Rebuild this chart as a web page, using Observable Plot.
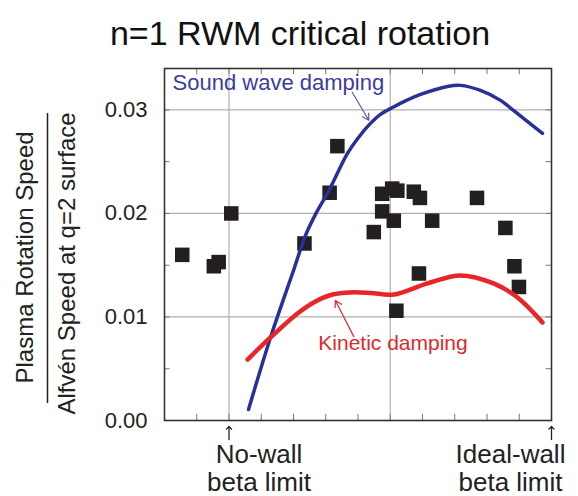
<!DOCTYPE html>
<html>
<head>
<meta charset="utf-8">
<script src="https://cdn.jsdelivr.net/npm/d3@7"></script>
<script src="https://cdn.jsdelivr.net/npm/@observablehq/plot@0.6"></script>
<style>
  html, body { margin: 0; padding: 0; background: #fff; }
  svg { font-family: "Liberation Sans", Arial, Helvetica, sans-serif; }
</style>
</head>
<body>
<div id="chart"></div>
<script>
// Normalized beta: 0 = no-wall limit, 1 = ideal-wall limit
const expX = [-0.145, -0.047, -0.032, 0.007, 0.234, 0.312, 0.336, 0.449, 0.475, 0.475, 0.506, 0.511, 0.519, 0.522, 0.573, 0.589, 0.592, 0.630, 0.769, 0.857, 0.885, 0.899];
const expY = [0.0160, 0.0149, 0.0153, 0.0200, 0.0171, 0.0220, 0.0265, 0.0182, 0.0219, 0.0202, 0.0224, 0.0193, 0.0106, 0.0222, 0.0221, 0.0142, 0.0215, 0.0193, 0.0215, 0.0186, 0.0149, 0.0129];

const soundX = [0.0605, 0.1287, 0.2000, 0.2372, 0.2713, 0.3085, 0.3674, 0.4016, 0.4357, 0.4698, 0.5070, 0.5504, 0.5938, 0.6775, 0.7178, 0.7798, 0.8419, 0.8822, 0.9721];
const soundY = [0.00106, 0.00802, 0.01449, 0.01787, 0.02010, 0.02213, 0.02580, 0.02734, 0.02860, 0.02957, 0.03024, 0.03092, 0.03150, 0.03227, 0.03237, 0.03188, 0.03092, 0.02995, 0.02773];

const kinX = [0.0574, 0.1287, 0.2124, 0.2682, 0.3209, 0.3767, 0.4388, 0.5101, 0.6155, 0.7178, 0.8202, 0.8946, 0.9721];
const kinY = [0.00589, 0.00802, 0.01034, 0.01150, 0.01217, 0.01237, 0.01232, 0.01217, 0.01324, 0.01401, 0.01324, 0.01188, 0.00947];

const yTickLabels = [0, 0.01, 0.02, 0.03];
const yMinorTicks = [0, 0.005, 0.01, 0.015, 0.02, 0.025, 0.03];
const xMinorTicks = [-0.1, 0, 0.1, 0.2, 0.3, 0.4, 0.5, 0.6, 0.7, 0.8, 0.9];
const gridX = [0, 0.5];
const gridY = [0.01, 0.02, 0.03];
const limitX = [0, 1];
const limitLabels = ["No-wall\nbeta limit", "Ideal-wall\nbeta limit"];

const exp = expX.map((x, i) => ({x, y: expY[i]}));
const sound = soundX.map((x, i) => ({x, y: soundY[i]}));
const kin = kinX.map((x, i) => ({x, y: kinY[i]}));

const X0 = -0.2, X1 = 1.0, Y0 = 0, Y1 = 0.034;
const tx = 0.017, ty = 0.0006;

const chart = Plot.plot({
  width: 578,
  height: 496,
  marginLeft: 164,
  marginRight: 27,
  marginTop: 68,
  marginBottom: 76,
  x: {domain: [X0, X1], axis: null},
  y: {domain: [Y0, Y1], axis: null},
  style: {fontFamily: '"Liberation Sans", Arial, Helvetica, sans-serif', background: "#fff"},
  marks: [
    // grid
    Plot.ruleY(gridY, {stroke: "#b0b0b0", strokeWidth: 1.2}),
    Plot.ruleX(gridX, {stroke: "#b0b0b0", strokeWidth: 1.2}),
    // inward ticks
    Plot.ruleY(yMinorTicks, {x1: X0, x2: X0 + tx, stroke: "#777"}),
    Plot.ruleY(yMinorTicks, {x1: X1 - tx, x2: X1, stroke: "#777"}),
    Plot.ruleX(xMinorTicks, {y1: Y0, y2: Y0 + ty, stroke: "#777"}),
    Plot.ruleX(xMinorTicks, {y1: Y1 - ty, y2: Y1, stroke: "#777"}),
    // y tick labels
    Plot.text(yTickLabels, {
      y: d => d, frameAnchor: "left", text: d3.format(".2f"),
      textAnchor: "end", dx: -17, fontSize: 22, fill: "#222", letterSpacing: 0.7
    }),
    // experimental points
    Plot.dot(exp, {x: "x", y: "y", symbol: "square", r: 8.2, fill: "#231f20", stroke: "none"}),
    // curves
    Plot.line(sound, {x: "x", y: "y", curve: "catmull-rom", stroke: "#2b2f98", strokeWidth: 3.5}),
    Plot.line(kin, {x: "x", y: "y", curve: "catmull-rom", stroke: "#e8262a", strokeWidth: 4.5}),
    // annotation labels
    Plot.text(["Sound wave damping"], {
      x: -0.175, y: 0.03256, text: d => d, textAnchor: "start",
      fill: "#3a3d9e", fontSize: 22, letterSpacing: 2.5
    }),
    Plot.arrow([0], {
      x1: 0.382, y1: 0.0317, x2: 0.4335, y2: 0.0290,
      stroke: "#5a5aa8", strokeWidth: 1.2, headLength: 9
    }),
    Plot.text(["Kinetic damping"], {
      x: 0.5085, y: 0.00744, text: d => d, textAnchor: "middle",
      fill: "#e0282e", fontSize: 21, letterSpacing: 2.0
    }),
    Plot.arrow([0], {
      x1: 0.387, y1: 0.0081, x2: 0.330, y2: 0.0116,
      stroke: "#e0282e", strokeWidth: 1.2, headLength: 9
    }),
    // frame
    Plot.frame({stroke: "#333", strokeWidth: 1.6}),
    // limit arrows under axis
    Plot.vector(limitX, {
      x: d => d, frameAnchor: "bottom", dy: 19, length: 13, anchor: "start",
      rotate: 0, stroke: "#222", strokeWidth: 1.3
    }),
    Plot.text([limitLabels[0]], {
      x: limitX[0], frameAnchor: "bottom", text: d => d,
      dx: 30, dy: 70, fontSize: 26, lineHeight: 1.06, letterSpacing: 2.1,
      fill: "#222", textAnchor: "middle"
    }),
    Plot.text([limitLabels[1]], {
      x: limitX[1], frameAnchor: "bottom", text: d => d,
      dx: -41, dy: 70, fontSize: 26, lineHeight: 1.06, letterSpacing: 1.8,
      fill: "#222", textAnchor: "middle"
    }),
    // title
    Plot.text(["n=1 RWM critical rotation"], {
      frameAnchor: "top", text: d => d, dx: -58, dy: -48, fontSize: 34,
      fill: "#111", letterSpacing: 4.3, textAnchor: "middle"
    }),
    // y-axis title (fraction)
    Plot.text(["Plasma Rotation Speed"], {
      frameAnchor: "left", y: 0.01575, text: d => d, rotate: -90, textAnchor: "middle",
      dx: -139, fontSize: 24, fill: "#222", letterSpacing: 2.3
    }),
    Plot.ruleX([X0], {y1: 0.00164, y2: 0.02966, dx: -117, stroke: "#222", strokeWidth: 1.5}),
    Plot.text(["Alfvén Speed at q=2 surface"], {
      frameAnchor: "left", y: 0.01517, text: d => d, rotate: -90, textAnchor: "middle",
      dx: -97, fontSize: 24, fill: "#222", letterSpacing: 1.7
    })
  ]
});

document.getElementById("chart").appendChild(chart);
</script>
</body>
</html>
